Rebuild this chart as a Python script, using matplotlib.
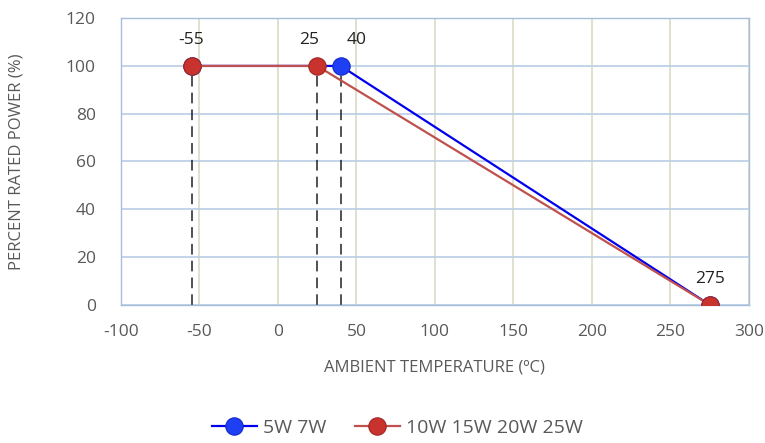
import matplotlib
matplotlib.use("Agg")
import matplotlib.pyplot as plt

temp_small = [-55, 40, 275]
power_small = [100, 100, 0]
temp_large = [-55, 25, 275]
power_large = [100, 100, 0]
dashed_x = [-55, 25, 40]
point_labels = ["-55", "25", "40", "275"]
label_x = [-55, 25, 40, 275]
label_y = [100, 100, 100, 0]
xticks = [-100, -50, 0, 50, 100, 150, 200, 250, 300]
yticks = [0, 20, 40, 60, 80, 100, 120]

plt.rcParams['font.family'] = ['Open Sans', 'DejaVu Sans']
plt.rcParams['axes.unicode_minus'] = False

fig = plt.figure(figsize=(7.65, 4.43), dpi=100)
ax = fig.add_axes([0.158, 0.312, 0.821, 0.647])

gray = '#595959'
for x in dashed_x:
    ax.plot([x, x], [0, 100], color='#222222', linestyle=(0, (7, 4)), linewidth=1.1, zorder=2)

ax.plot(temp_small, power_small, color='#0000ee', linewidth=1.6, marker='o',
        markersize=12.5, markerfacecolor='#1f3ff5', markeredgecolor='#1228c8',
        markeredgewidth=0.8, label='5W 7W', zorder=3)
ax.plot(temp_large, power_large, color='#c0504d', linewidth=1.6, marker='o',
        markersize=12.5, markerfacecolor='#c8332e', markeredgecolor='#a02622',
        markeredgewidth=0.8, label='10W 15W 20W 25W', zorder=4)

# small horizontal nudges so labels sit like the reference
offsets = [(0, 0), (-5, 0), (10, 0), (0, 0)]
for t, x, y, off in zip(point_labels, label_x, label_y, offsets):
    ax.text(x + off[0], y + 7.5, t, ha='center', va='bottom', fontsize=12.5, color='#222222')

ax.set_xlim(-100, 300)
ax.set_ylim(0, 120)
ax.set_xticks(xticks)
ax.set_yticks(yticks)
ax.tick_params(length=0, labelsize=12.5, labelcolor=gray)
ax.tick_params(axis='x', pad=14)
ax.tick_params(axis='y', pad=18)

ax.xaxis.grid(True, color='#ddd9c3', linewidth=1.2)
ax.yaxis.grid(True, color='#b9cde5', linewidth=1.2)
ax.set_axisbelow(True)
for s in ax.spines.values():
    s.set_color('#a6bddb')
    s.set_linewidth(1.0)

ax.set_xlabel('AMBIENT TEMPERATURE (ºC)', fontsize=12, color=gray, labelpad=14)
ax.set_ylabel('PERCENT RATED POWER (%)', fontsize=12, color=gray, labelpad=30)

ax.legend(loc='center', bbox_to_anchor=(0.44, -0.43), ncol=2, frameon=False,
          fontsize=14, labelcolor=gray, handlelength=2.3, handletextpad=0.3,
          columnspacing=1.5, markerscale=1.0)

fig.savefig('out.png', dpi=100)
